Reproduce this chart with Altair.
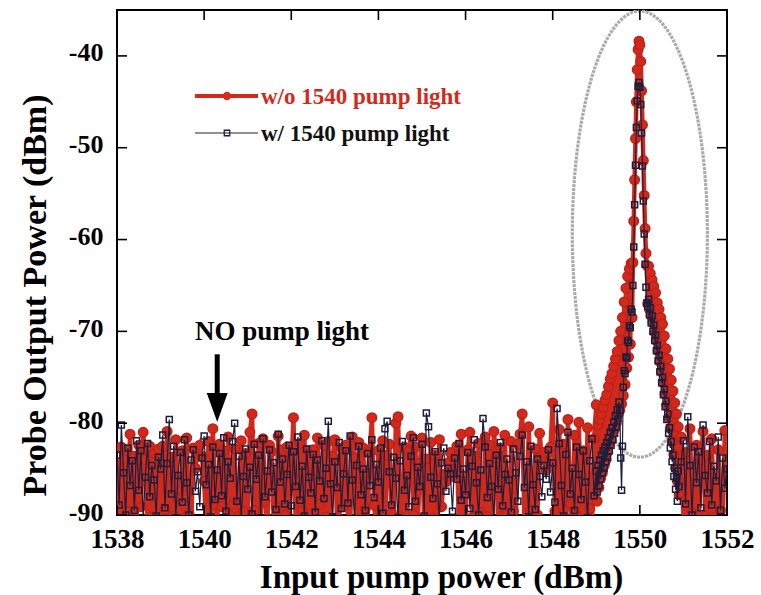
import altair as alt
import numpy as np
import pandas as pd

FONT = "Liberation Serif"
RED = "#d12a1d"
NAVY = "#1b1f3b"

# ---------------- data (dBm values) ----------------
STEP_NOISE = 0.05
STEP_PEAK = 0.02

# w/o 1540 pump light (red), one list per nm, starting at the given wavelength
RED_1538 = [-84.5,-90.8,-82.6,-91.2,-83.0,-89.6,-81.2,-91.5,-83.6,-90.8,-82.4,-89.1,-81.0,-84.0,-91.3,-82.5,-90.2,-83.3,-91.0,-82.8]
RED_1539 = [-90.7,-82.5,-89.4,-80.9,-91.3,-83.7,-90.1,-81.8,-88.2,-91.6,-83.0,-90.3,-81.6,-89.8,-91.9,-82.7,-84.9,-83.1,-82.4,-83.6]
RED_1540 = [-86.3,-91.4,-82.0,-90.7,-80.6,-88.9,-91.8,-82.3,-89.1,-83.0,-91.7,-81.5,-90.0,-88.9,-82.8,-91.4,-90.1,-81.9,-89.6,-83.3]
RED_1541 = [-91.2,-81.0,-79.0,-89.5,-91.5,-82.2,-90.8,-81.7,-88.5,-91.2,-82.4,-83.1,-91.4,-89.1,-81.4,-91.6,-82.9,-90.0,-82.6,-91.3]
RED_1542 = [-85.1,-79.4,-90.7,-91.9,-82.2,-89.5,-81.3,-91.6,-83.0,-90.7,-82.9,-91.8,-81.6,-88.8,-91.0,-82.4,-90.2,-82.0,-91.5,-83.6]
RED_1543 = [-81.8,-90.9,-91.4,-82.7,-89.1,-82.4,-90.6,-91.7,-81.5,-83.8,-91.2,-82.1,-90.4,-82.7,-89.3,-91.1,-83.2,-79.4,-88.9,-91.5]
RED_1544 = [-83.0,-90.7,-81.9,-91.3,-83.5,-82.3,-89.8,-91.1,-80.0,-79.3,-90.2,-91.5,-82.6,-91.7,-83.1,-81.4,-90.0,-82.6,-91.8,-84.4]
RED_1545 = [-81.6,-91.2,-83.9,-91.3,-82.1,-90.4,-83.5,-91.0,-81.8,-89.1,-85.6,-86.4,-84.3,-83.2,-85.8,-84.0,-82.5,-91.7,-81.2,-90.9]
RED_1546 = [-91.1,-82.9,-81.0,-90.3,-83.6,-91.5,-82.2,-89.7,-91.6,-81.5,-90.2,-82.4,-91.9,-80.9,-83.8,-91.2,-82.7,-90.1,-81.3,-89.9]
RED_1547 = [-91.4,-82.0,-89.6,-91.3,-82.3,-81.2,-79.0,-90.7,-91.8,-80.4,-89.5,-91.5,-82.8,-90.0,-81.1,-84.0,-83.2,-85.1,-84.4,-82.6]
RED_1548 = [-77.8,-89.6,-91.2,-80.7,-90.9,-82.3,-91.4,-79.6,-88.8,-91.6,-81.3,-90.1,-79.9,-91.7,-83.0,-91.4,-80.5,-89.3,-91.0,-81.7]
PEAK_START = 1549.00
RED_PEAK_LEFT = [-78.0,-88.5,-80.2,-87.0,-79.6,-86.0,-79.0,-85.4,-78.3,-84.6,-77.5,-84.0,-76.9,-83.1,-76.0,-82.2,
                 -75.2,-81.8,-74.6,-81.0,-73.8,-80.6,-73.0,-80.0,-72.2,-79.0,-71.0,-78.6,-70.0,-77.9,-68.5,-77.0,
                 -66.8,-75.8,-65.3,-74.0,-64.0,-72.8,-63.2,-71.4,-62.6,-68.5]
RED_PEAK_TOP = [-62.5,-58.0,-53.5,-49.0,-45.0,-41.5,-39.3,-38.4,-38.8,-40.6,-43.8,-47.5,-51.4,-55.2,-58.8,-61.5,-62.8]
RED_PEAK_RIGHT = [-67.0,-62.9,-67.6,-63.7,-68.3,-64.4,-69.0,-65.1,-70.1,-65.8,-71.0,-66.9,-72.1,-67.6,-73.3,-68.5,
                  -74.4,-69.2,-75.6,-70.5,-76.8,-71.9,-78.0,-73.0,-79.4,-74.1,-80.6,-75.3,-82.0,-76.5,-83.4,-77.8,
                  -84.9,-79.0,-86.3,-80.4,-87.8]
RIGHT_START = 1550.95
RED_RIGHT = [-81.5,-90.6,-83.2,-91.4,-80.6,-89.8,-91.9,-82.4,-91.5,-84.0,-80.9,-90.1,-83.5,-91.2,-81.7,-90.3,
             -91.1,-82.9,-89.5,-91.4,-80.8,-84.1]

# w/ 1540 pump light (dark)
BLK_1538 = [-83.5,-88.9,-80.2,-85.4,-90.0,-82.7,-86.8,-84.1,-89.5,-81.9,-87.3,-83.0,-90.4,-85.9,-82.2,-88.0,-84.6,-86.2,-90.1,-83.7]
BLK_1539 = [-85.0,-81.3,-89.2,-84.4,-79.6,-87.7,-82.5,-90.3,-85.7,-83.2,-88.6,-81.8,-86.5,-90.0,-84.0,-82.9,-87.4,-85.3,-89.1,-83.8]
BLK_1540 = [-81.4,-86.7,-84.5,-90.2,-82.6,-88.3,-85.1,-83.3,-87.9,-81.6,-89.6,-84.2,-86.0,-82.0,-80.0,-88.5,-83.6,-90.4,-85.8,-82.8]
BLK_1541 = [-87.2,-84.8,-89.9,-82.3,-86.1,-83.5,-90.3,-81.7,-88.0,-85.2,-82.9,-87.5,-84.3,-89.4,-81.2,-86.4,-83.9,-88.8,-85.6,-82.4]
BLK_1542 = [-89.0,-83.1,-86.9,-81.5,-88.4,-84.7,-90.1,-82.8,-85.9,-87.6,-83.4,-89.7,-84.0,-86.3,-81.9,-88.2,-84.9,-79.8,-86.6,-90.2]
BLK_1543 = [-84.2,-87.0,-82.1,-89.3,-85.5,-83.0,-88.7,-81.4,-86.2,-90.4,-84.6,-82.5,-87.8,-85.0,-89.5,-83.3,-86.8,-81.8,-88.1,-84.5]
BLK_1544 = [-86.4,-82.7,-89.8,-80.6,-79.8,-85.3,-88.9,-83.7,-86.0,-90.3,-84.1,-82.0,-87.3,-85.7,-89.1,-83.6,-81.6,-88.5,-84.8,-86.9]
BLK_1545 = [-82.3,-90.1,-78.9,-80.4,-85.9,-88.2,-83.1,-86.6,-90.4,-84.3,-82.7,-87.4,-84.9,-85.5,-89.6,-83.8,-86.1,-82.2,-88.4,-85.0]
BLK_1546 = [-87.8,-83.2,-89.3,-84.7,-81.8,-86.5,-90.0,-85.1,-79.5,-82.6,-88.1,-84.4,-86.9,-90.5,-83.5,-87.2,-82.1,-89.0,-85.6,-83.9]
BLK_1547 = [-86.2,-89.7,-82.8,-85.4,-88.5,-83.6,-81.3,-87.0,-84.2,-90.2,-82.5,-86.7,-89.4,-83.9,-85.8,-88.0,-84.6,-86.1,-82.9,-87.5]
BLK_1548 = [-84.3,-88.6,-78.4,-82.2,-86.8,-90.1,-83.4,-81.0,-87.7,-84.9,-89.5,-82.6,-85.6,-88.3,-83.0,-86.4,-90.3,-84.1,-81.7,-87.9]
BLK_PEAK_LEFT = [-85.2,-87.5,-84.6,-86.8,-84.0,-86.1,-83.5,-85.4,-83.0,-84.9,-82.6,-84.2,-82.1,-83.7,-81.6,-83.0,
                 -81.0,-82.4,-80.5,-81.8,-79.9,-81.1,-79.2,-80.4,-78.5,-79.5,-77.7,-78.6,-83.8,-87.3,-82.5,-76.1,
                 -74.3,-74.6,-72.8,-72.9,-71.0,-71.2,-69.4,-69.6,-67.6,-67.9]
BLK_PEAK_TOP = [-65.0,-60.8,-56.2,-51.9,-47.8,-44.9,-43.3,-42.9,-43.4,-45.3,-48.4,-52.0,-55.8,-59.4,-62.7,-65.2,-66.9]
BLK_PEAK_RIGHT = [-67.3,-66.5,-68.2,-67.4,-69.1,-68.3,-70.0,-69.3,-71.0,-70.4,-72.1,-71.5,-73.2,-72.6,-74.4,-73.8,
                  -75.6,-75.0,-76.9,-76.3,-78.2,-77.6,-79.6,-79.0,-81.1,-80.5,-82.7,-82.0,-84.2,-83.5,-85.8,-84.9,
                  -87.2,-86.0,-88.5,-85.2,-86.9]
BLK_RIGHT = [-84.2,-81.9,-88.8,-79.3,-84.6,-90.0,-82.6,-86.5,-83.1,-89.2,-80.2,-85.7,-87.6,-82.0,-88.9,-84.7,
             -86.3,-81.5,-89.5,-83.8,-87.1,-85.0]

X_TICKS = [1538, 1540, 1542, 1544, 1546, 1548, 1550, 1552]
Y_TICKS = [-90, -80, -70, -60, -50, -40]
SERIES = ["w/o 1540 pump light", "w/ 1540 pump light"]

# annotation (ellipse around the peak, "NO pump light" arrow)
ELL_CX, ELL_CY, ELL_RX, ELL_RY = 1550.0, -59.4, 1.55, 24.3
NOTE_TEXT = "NO pump light"
NOTE_X, NOTE_Y = 1539.79, -70.9
ARROW_X, ARROW_TOP, ARROW_SHAFT_END, ARROW_HEAD_CY = 1540.3, -72.5, -77.0, -78.3


def build(segments, name):
    rows = []
    for start, step, vals in segments:
        for i, v in enumerate(vals):
            rows.append({"wl": round(start + i * step, 3), "power": v, "series": name})
    return pd.DataFrame(rows)


red_segments = [(1538 + k, STEP_NOISE, lst) for k, lst in enumerate(
    [RED_1538, RED_1539, RED_1540, RED_1541, RED_1542, RED_1543, RED_1544, RED_1545, RED_1546, RED_1547, RED_1548])]
red_segments += [(PEAK_START, STEP_PEAK, RED_PEAK_LEFT + RED_PEAK_TOP + RED_PEAK_RIGHT),
                 (RIGHT_START, STEP_NOISE, RED_RIGHT)]
blk_segments = [(1538 + k, STEP_NOISE, lst) for k, lst in enumerate(
    [BLK_1538, BLK_1539, BLK_1540, BLK_1541, BLK_1542, BLK_1543, BLK_1544, BLK_1545, BLK_1546, BLK_1547, BLK_1548])]
blk_segments += [(PEAK_START, STEP_PEAK, BLK_PEAK_LEFT + BLK_PEAK_TOP + BLK_PEAK_RIGHT),
                 (RIGHT_START, STEP_NOISE, BLK_RIGHT)]

red_df = build(red_segments, SERIES[0])
blk_df = build(blk_segments, SERIES[1])

t = np.linspace(0, 2 * np.pi, 181)
ell_df = pd.DataFrame({"wl": ELL_CX + ELL_RX * np.cos(t), "power": ELL_CY + ELL_RY * np.sin(t), "k": np.arange(len(t))})

XS = alt.Scale(domain=[1538, 1552], nice=False, zero=False)
YS = alt.Scale(domain=[-90, -35], nice=False, zero=False)

x_axis = alt.Axis(values=X_TICKS, title="Input pump power (dBm)", labelExpr="'' + datum.value",
                  labelFont=FONT, labelFontWeight="bold", labelFontSize=27, labelColor="black",
                  labelPadding=11, ticks=False, domain=False, grid=False, labelFlush=False,
                  titleFont=FONT, titleFontWeight="bold", titleFontSize=33, titleColor="black",
                  titleX=324, titleY=72, titleBaseline="alphabetic", titleAlign="center")
y_axis = alt.Axis(values=Y_TICKS, title="Probe Output Power (dBm)", labelExpr="'' + datum.value",
                  labelFont=FONT, labelFontWeight="bold", labelFontSize=26, labelColor="black",
                  labelPadding=14, labelOffset=-3, ticks=False, domain=False, grid=False, labelFlush=False,
                  titleFont=FONT, titleFontWeight="bold", titleFontSize=34, titleColor="black",
                  titleAngle=270, titleX=-72, titleY=285, titleBaseline="alphabetic", titleAlign="center")


def X(field):
    return alt.X(field, scale=XS, axis=x_axis, title="Input pump power (dBm)")


def Y(field):
    return alt.Y(field, scale=YS, axis=y_axis, title="Probe Output Power (dBm)")


red_line = alt.Chart(red_df).mark_line(color=RED, strokeWidth=4.5, clip=True).encode(x=X("wl:Q"), y=Y("power:Q"))
red_pts = alt.Chart(red_df).mark_point(shape="circle", filled=True, fill=RED, stroke="#c02016", strokeWidth=1.5,
                                       size=90, opacity=1, clip=True).encode(x=X("wl:Q"), y=Y("power:Q"))
blk_line = alt.Chart(blk_df).mark_line(color=NAVY, strokeWidth=1.2, clip=True).encode(x=X("wl:Q"), y=Y("power:Q"))
blk_pts = alt.Chart(blk_df).mark_point(shape="square", filled=False, color=NAVY, size=36, strokeWidth=1.5,
                                       opacity=1, clip=True).encode(x=X("wl:Q"), y=Y("power:Q"))

ellipse = alt.Chart(ell_df).mark_line(color="#ababab", strokeWidth=3.2, strokeDash=[3, 1], clip=True).encode(
    x=X("wl:Q"), y=Y("power:Q"), order="k:Q")

# inward ticks on all four sides
yt = pd.DataFrame({"v": Y_TICKS})
xt = pd.DataFrame({"v": X_TICKS})
tick_style = dict(color="black", strokeWidth=1.6)
left_ticks = alt.Chart(yt).mark_rule(**tick_style).encode(y=Y("v:Q"), x=alt.value(0), x2=alt.value(10))
right_ticks = alt.Chart(yt).mark_rule(**tick_style).encode(y=Y("v:Q"), x=alt.value(600), x2=alt.value(610))
top_ticks = alt.Chart(xt).mark_rule(**tick_style).encode(x=X("v:Q"), y=alt.value(0), y2=alt.value(10))
bottom_ticks = alt.Chart(xt).mark_rule(**tick_style).encode(x=X("v:Q"), y=alt.value(495), y2=alt.value(505))

# annotation
note_df = pd.DataFrame({"label": [NOTE_TEXT], "x": [NOTE_X], "y": [NOTE_Y],
                        "ax": [ARROW_X], "a1": [ARROW_TOP], "a2": [ARROW_SHAFT_END], "ah": [ARROW_HEAD_CY]})
note = alt.Chart(note_df).mark_text(align="left", baseline="alphabetic", font=FONT, fontWeight="bold",
                                    fontSize=27, color="black").encode(x=X("x:Q"), y=Y("y:Q"), text="label:N")
shaft = alt.Chart(note_df).mark_rule(color="black", strokeWidth=5).encode(x=X("ax:Q"), y=Y("a1:Q"), y2="a2:Q")
head = alt.Chart(note_df).mark_point(shape="M-0.72,-1L0.72,-1L0,1Z", filled=True, color="black",
                                     size=841, opacity=1).encode(x=X("ax:Q"), y=Y("ah:Q"))


# legend (drawn inside the plot)
def legend_item(label, color, y, line_w, shape, size, sw, text_color):
    d = pd.DataFrame({"label": [label]})
    base = alt.Chart(d)
    ln = base.mark_rule(color=color, strokeWidth=line_w).encode(x=alt.value(78), x2=alt.value(141), y=alt.value(y))
    pt = base.mark_point(shape=shape, size=size, filled=False, color=color, strokeWidth=sw, opacity=1).encode(
        x=alt.value(110), y=alt.value(y))
    tx = base.mark_text(align="left", baseline="middle", font=FONT, fontWeight="bold", fontSize=23,
                        color=text_color).encode(x=alt.value(144), y=alt.value(y + 1), text="label:N")
    return [ln, pt, tx]


leg = legend_item(SERIES[0], RED, 86, 4, "circle", 40, 2, RED) + \
      legend_item(SERIES[1], NAVY, 123, 1, "square", 30, 1.3, "#111111")

chart = alt.layer(
    ellipse, red_line, red_pts, blk_line, blk_pts,
    left_ticks, right_ticks, top_ticks, bottom_ticks,
    note, shaft, head, *leg
).properties(
    width=610, height=505,
    autosize=alt.AutoSizeParams(type="none"),
    padding={"left": 117, "top": 10, "right": 34, "bottom": 80},
    background="white",
).configure_view(stroke="black", strokeWidth=2)

chart.save("out.html", embed_options={"renderer": "svg", "actions": False})
